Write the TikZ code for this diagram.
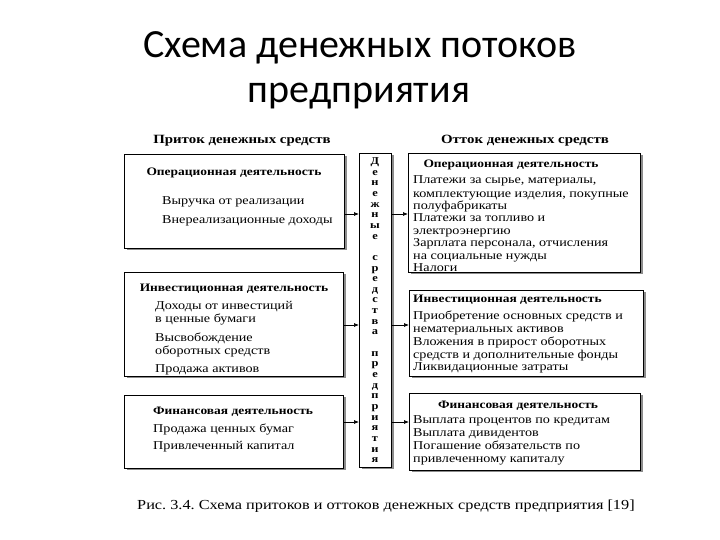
\documentclass[tikz,border=0pt]{standalone}
\usepackage{fontspec}
\setmainfont{Liberation Serif}[FakeStretch=1.18]
\newfontfamily\titlefont{Carlito}
\usetikzlibrary{arrows.meta,shadows}
\frenchspacing
\begin{document}
\begin{tikzpicture}[x=1pt,y=-1pt,
  box/.style={draw, line width=0.9pt, fill=white, anchor=north west, inner sep=0pt,
    drop shadow={shadow xshift=2.5pt, shadow yshift=-2pt, fill=black!45, opacity=1}},
  txt/.style={anchor=base west, inner sep=0pt, font=\fontsize{12}{13}\selectfont},
  hdr/.style={anchor=base, inner sep=0pt, font=\fontsize{11.4}{13}\selectfont\bfseries},
  chdr/.style={anchor=base, inner sep=0pt, font=\fontsize{12.6}{14}\selectfont\bfseries},
  vl/.style={anchor=base, inner sep=0pt, font=\fontsize{10.5}{11}\selectfont\bfseries},
  arr/.style={line width=0.7pt, -{Latex[length=5pt,width=4pt]}}]
\useasboundingbox (0,0) rectangle (720,540);
% title
\node[anchor=base, inner sep=0pt, font=\titlefont\fontsize{40}{45}\selectfont] (t1) at (360,58) {Схема денежных потоков};
\node[anchor=base, inner sep=0pt, font=\titlefont\fontsize{40}{45}\selectfont] (t2) at (359,103) {предприятия};
% column headers
\node[chdr] (hin) at (242,144) {Приток денежных средств};
\node[chdr] (hout) at (525,144) {Отток денежных средств};
% boxes
\node[box, minimum width=220pt, minimum height=94pt] (L1) at (124,154) {};
\node[box, minimum width=219pt, minimum height=104pt] (L2) at (124,272) {};
\node[box, minimum width=219pt, minimum height=73pt] (L3) at (124,395) {};
\node[box, minimum width=32pt, minimum height=314pt] (C) at (359,153) {};
\node[box, minimum width=232pt, minimum height=119pt] (R1) at (408,153) {};
\node[box, minimum width=234pt, minimum height=86pt] (R2) at (409,290) {};
\node[box, minimum width=231pt, minimum height=77pt] (R3) at (409,393) {};
% left texts
\node[hdr] (L1h) at (234,176) {Операционная деятельность};
\foreach \yy/\t [count=\i] in {205/{Выручка от реализации},224/{Внереализационные доходы}}
  \node[txt] (L1-\i) at (162,\yy) {\t};
\node[hdr] (L2h) at (234,291) {Инвестиционная деятельность};
\foreach \yy/\t [count=\i] in {309/{Доходы от инвестиций},322/{в ценные бумаги},341/{Высвобождение},354/{оборотных средств},372/{Продажа активов}}
  \node[txt] (L2-\i) at (155,\yy) {\t};
\node[hdr] (L3h) at (233,414) {Финансовая деятельность};
\foreach \yy/\t [count=\i] in {432/{Продажа ценных бумаг},449/{Привлеченный капитал}}
  \node[txt] (L3-\i) at (153,\yy) {\t};
% right texts
\node[hdr] (R1h) at (511,168) {Операционная деятельность};
\foreach \yy/\t [count=\i] in {184/{Платежи за сырье, материалы,},197/{комплектующие изделия, покупные},210/{полуфабрикаты},222/{Платежи за топливо и},234/{электроэнергию},246/{Зарплата персонала, отчисления},259/{на социальные нужды},271/{Налоги}}
  \node[txt] (R1-\i) at (413,\yy) {\t};
\node[hdr, anchor=base west] (R2h) at (413,302) {Инвестиционная деятельность};
\foreach \yy/\t [count=\i] in {319/{Приобретение основных средств и},332/{нематериальных активов},345/{Вложения в прирост оборотных},358/{средств и дополнительные фонды},370/{Ликвидационные затраты}}
  \node[txt] (R2-\i) at (413,\yy) {\t};
\node[hdr] (R3h) at (518,408) {Финансовая деятельность};
\foreach \yy/\t [count=\i] in {423/{Выплата процентов по кредитам},436/{Выплата дивидентов},449/{Погашение обязательств по},462/{привлеченному капиталу}}
  \node[txt] (R3-\i) at (413,\yy) {\t};
% vertical letters
\foreach \c [count=\i from 0] in {Д,е,н,е,ж,н,ы,е,{},с,р,е,д,с,т,в,а,{},п,р,е,д,п,р,и,я,т,и,я}
  \node[vl] (v\i) at (375,{164.5+\i*10.65}) {\c};
% arrows
\coordinate (a1) at (0,214);
\coordinate (a2) at (0,325);
\coordinate (a3) at (0,422);
\draw[arr] (L1.east |- a1) -- (C.west |- a1);
\draw[arr] (L2.east |- a2) -- (C.west |- a2);
\draw[arr] (L3.east |- a3) -- (C.west |- a3);
\draw[arr] (C.east |- a1) -- (R1.west |- a1);
\draw[arr] (C.east |- a2) -- (R2.west |- a2);
\draw[arr] (C.east |- a3) -- (R3.west |- a3);
% caption
\node[anchor=base west, inner sep=0pt, font=\fontsize{13.8}{14}\selectfont] (cap) at (137,509) {Рис. 3.4. Схема притоков и оттоков денежных средств предприятия [19]};
\end{tikzpicture}
\end{document}
